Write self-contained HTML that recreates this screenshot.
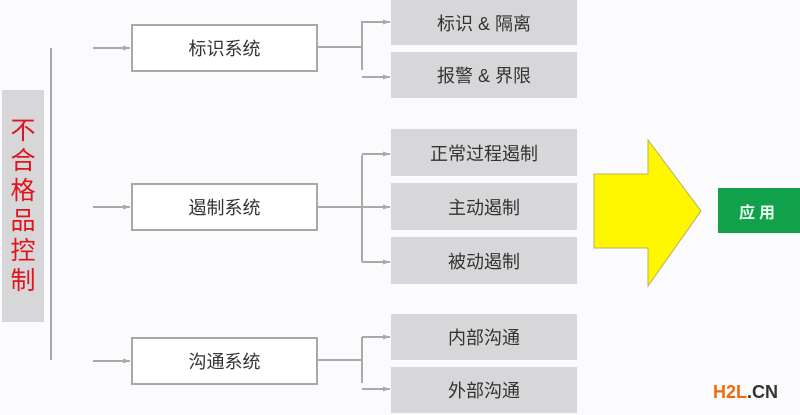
<!DOCTYPE html>
<html><head><meta charset="utf-8"><style>
body{margin:0;width:800px;height:415px;background:#fbfbfd;overflow:hidden;position:relative;font-family:"Liberation Sans","Noto Sans CJK SC",sans-serif}
.g{position:absolute;background:#d7d7d9;color:#333;font-size:18px;display:flex;align-items:center;justify-content:center;left:391px;width:186px;height:46px}
.m{position:absolute;left:131px;width:183px;height:44px;border:2px solid #a8a8a8;background:#fff;color:#333;font-size:18px;display:flex;align-items:center;justify-content:center}
</style></head><body>
<div style="position:absolute;left:2px;top:90px;width:42px;height:232px;background:#d7d7d9;color:#e0141c;font-size:25px;line-height:30px;display:flex;align-items:center;justify-content:center;text-align:center">不<br>合<br>格<br>品<br>控<br>制</div>
<svg width="800" height="415" style="position:absolute;left:0;top:0">
<defs><marker id="a" markerUnits="userSpaceOnUse" markerWidth="8" markerHeight="8" refX="7" refY="4" orient="auto"><path d="M0,1.5 L7,4 L0,6.5z" fill="#aaa"/></marker></defs>
<g stroke="#aaa" stroke-width="2" fill="none">
<line x1="51" y1="48" x2="51" y2="360"/>
<line x1="93" y1="48" x2="130" y2="48" marker-end="url(#a)"/>
<line x1="93" y1="207" x2="130" y2="207" marker-end="url(#a)"/>
<line x1="93" y1="361" x2="130" y2="361" marker-end="url(#a)"/>
<line x1="316" y1="47" x2="362" y2="47"/>
<path d="M390,22 H362 V70"/><line x1="362" y1="77" x2="390" y2="77" marker-end="url(#a)"/><line x1="362" y1="22" x2="390" y2="22" marker-end="url(#a)"/>
<line x1="316" y1="207" x2="390" y2="207" marker-end="url(#a)"/>
<path d="M362,155 V262"/><line x1="362" y1="154" x2="390" y2="154" marker-end="url(#a)"/><line x1="362" y1="262" x2="390" y2="262" marker-end="url(#a)"/>
<line x1="316" y1="360" x2="362" y2="360"/>
<path d="M362,337 V383"/><line x1="362" y1="337" x2="390" y2="337" marker-end="url(#a)"/><line x1="362" y1="389" x2="390" y2="389" marker-end="url(#a)"/>
</g>
<polygon points="594,174 648,174 648,140 701,211 648,286 648,248 594,248" fill="#fff700" stroke="#b8b060" stroke-width="1"/>
</svg>
<div class="m" style="top:24px">标识系统</div>
<div class="m" style="top:183px">遏制系统</div>
<div class="m" style="top:337px">沟通系统</div>
<div class="g" style="top:0;height:45px">标识 &amp; 隔离</div>
<div class="g" style="top:52px">报警 &amp; 界限</div>
<div class="g" style="top:129px;height:47px">正常过程遏制</div>
<div class="g" style="top:183px;height:47px">主动遏制</div>
<div class="g" style="top:237px;height:47px">被动遏制</div>
<div class="g" style="top:314px">内部沟通</div>
<div class="g" style="top:367px">外部沟通</div>
<div style="position:absolute;left:718px;top:188px;width:82px;height:45px;background:#12a14b;color:#e8fff0;font-weight:bold;font-size:16px;display:flex;align-items:center;justify-content:center;letter-spacing:4px">应用</div>
<div style="position:absolute;left:713px;top:382px;font-weight:bold;font-size:18px;color:#333"><span style="color:#f06a10">H2L</span>.CN</div>
</body></html>
